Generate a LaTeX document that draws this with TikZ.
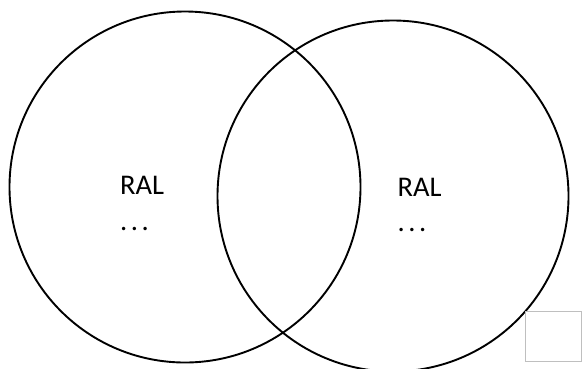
\documentclass[tikz,border=0pt]{standalone}
\usepackage{fontspec}
\setmainfont{Carlito}
\newcommand{\mydots}{.\hspace{3.5pt}.\hspace{3.5pt}.}
\tikzset{
  venn/.style={circle, draw=black, line width=1.9pt, inner sep=0pt, minimum size=#1},
  lbl/.style={anchor=base west, inner sep=0pt, font=\fontsize{28.5}{34}\selectfont},
  grbox/.style={draw=black!25, line width=1.8pt, inner sep=0pt, minimum width=56pt, minimum height=50pt}
}
\begin{document}
\begin{tikzpicture}[x=1pt,y=-1pt]
\useasboundingbox (0,0) rectangle (583,368);
\clip (0,0) rectangle (583,368);
\node[venn=351pt] (left) at (185,187) {};
\node[venn=351pt] (right) at (393,196) {};
\node[lbl] (ral1) at (120,194) {RAL};
\node[lbl] (dots1) at (120,230) {\mydots};
\node[lbl] (ral2) at (397.5,196) {RAL};
\node[lbl] (dots2) at (397.5,231) {\mydots};
\node[grbox] (sq) at (553.5,336.5) {};
\end{tikzpicture}
\end{document}
